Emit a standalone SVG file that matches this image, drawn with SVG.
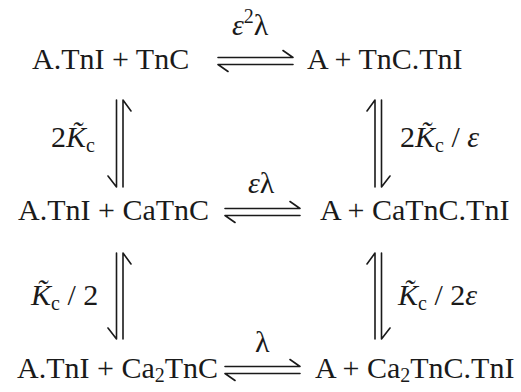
<svg xmlns="http://www.w3.org/2000/svg" width="521" height="392" viewBox="0 0 521 392">
<style>
text{font-family:"Liberation Serif","Times New Roman",serif;fill:#1a1a1a}
.sp{font-size:30px}
.lb{font-size:30px}
.it{font-style:italic}
.sub{font-size:20px}
.ar{fill:none;stroke:#1a1a1a;stroke-width:1.6;stroke-linecap:round;stroke-linejoin:round}
</style>
<rect width="521" height="392" fill="#fff"/>
<g id="n1"><text class="sp" x="32" y="69">A.TnI + TnC</text></g>
<g id="n2"><text class="sp" x="307" y="69">A + TnC.TnI</text></g>
<g id="n3"><text class="sp" x="18" y="220">A.TnI + CaTnC</text></g>
<g id="n4"><text class="sp" x="320" y="220">A + CaTnC.TnI</text></g>
<g id="n5"><text class="sp" x="17" y="378">A.TnI + Ca<tspan class="sub" dy="4">2</tspan><tspan dy="-4">TnC</tspan></text></g>
<g id="n6"><text class="sp" x="315" y="378">A + Ca<tspan class="sub" dy="4">2</tspan><tspan dy="-4">TnC.TnI</tspan></text></g>
<g id="connectors">
<path class="ar" d="M218,57.5H293L283,50.5M218,64.5H293M218,64.5L228,71.5"/>
<path class="ar" d="M225,208.5H300L290,201.5M225,215.5H300M225,215.5L235,222.5"/>
<path class="ar" d="M225,366.5H300L290,359.5M225,373.5H300M225,373.5L235,380.5"/>
<path class="ar" d="M116.5,100V187L108,176M123,187V100L131,111"/>
<path class="ar" d="M375,187V100L367,111M381.5,100V187L390,176"/>
<path class="ar" d="M116.5,253V339L108,328M123,339V253L131,264"/>
<path class="ar" d="M375,339V253L367,264M381.5,253V339L390,328"/>
<text class="lb" x="232" y="35"><tspan class="it">ε</tspan><tspan class="sub" dy="-12">2</tspan><tspan dy="12">λ</tspan></text>
<text class="lb" x="248" y="193"><tspan class="it">ε</tspan>λ</text>
<text class="lb" x="255" y="352">λ</text>
<text class="lb" x="51" y="147">2<tspan class="it">K̃</tspan><tspan class="sub" dy="5">c</tspan></text>
<text class="lb" x="400" y="147">2<tspan class="it">K̃</tspan><tspan class="sub" dy="5">c</tspan><tspan dy="-5"> / </tspan><tspan class="it">ε</tspan></text>
<text class="lb" x="31" y="305"><tspan class="it">K̃</tspan><tspan class="sub" dy="5">c</tspan><tspan dy="-5"> / 2</tspan></text>
<text class="lb" x="398" y="305"><tspan class="it">K̃</tspan><tspan class="sub" dy="5">c</tspan><tspan dy="-5"> / 2</tspan><tspan class="it">ε</tspan></text>
</g>
</svg>
